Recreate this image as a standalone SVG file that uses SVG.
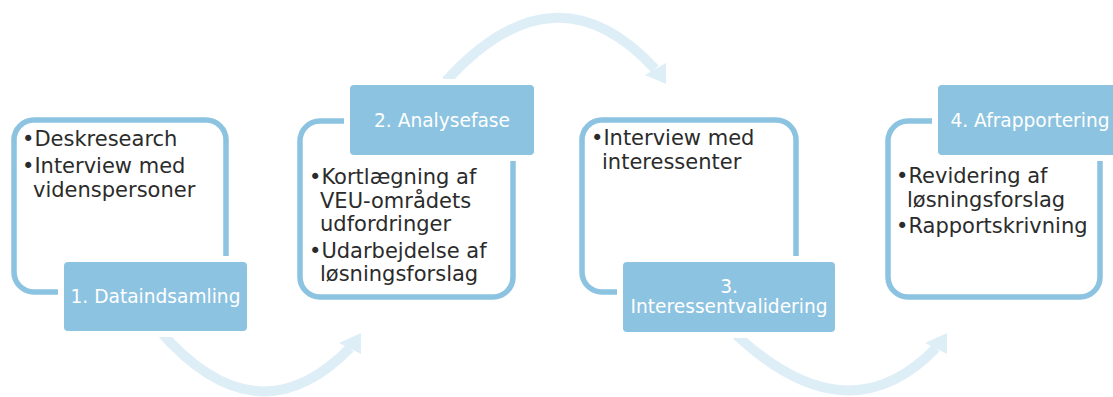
<svg xmlns="http://www.w3.org/2000/svg" width="1113" height="397" viewBox="0 0 1113 397">
<style>
.outline{fill:#ffffff;stroke:#8cc3e1;stroke-width:5.5}
.label{fill:#8cc3e1;stroke:#ffffff;stroke-width:12;paint-order:stroke}
.ltxt{font-family:"DejaVu Sans",Verdana,sans-serif;font-size:18.6px;fill:#ffffff;text-anchor:middle}
.btxt{font-family:"DejaVu Sans",Verdana,sans-serif;font-size:21px;fill:#2b2b2b}
.arc{fill:none;stroke:#deeef7;stroke-width:10}
.head{fill:#deeef7}
</style>
<rect width="1113" height="397" fill="#ffffff"/>
<g id="connectors">
<path class="arc" d="M159,330 Q257,443 350,348"/>
<polygon class="head" points="339,343 361,333 361,354"/>
<path class="arc" d="M446,81 Q555,-39 655,69"/>
<polygon class="head" points="645,75 666,63 666,84"/>
<path class="arc" d="M731,330 Q846,441 936,348"/>
<polygon class="head" points="925,343 947,333 947,354"/>
</g>
<g id="node1">
<rect class="outline" x="14" y="120" width="212" height="172" rx="20"/>
<text class="btxt"><tspan x="22" y="146">•Deskresearch</tspan><tspan x="22" y="173">•Interview med</tspan><tspan x="33" y="197">videnspersoner</tspan></text>
<rect class="label" x="64" y="262" width="183" height="69" rx="4"/>
<text class="ltxt" x="155.5" y="303">1. Dataindsamling</text>
</g>
<g id="node2">
<rect class="outline" x="300" y="121" width="213" height="176" rx="20"/>
<rect class="label" x="350" y="85" width="184" height="70" rx="4"/>
<text class="ltxt" x="442" y="127">2. Analysefase</text>
<text class="btxt"><tspan x="309" y="184">•Kortlægning af</tspan><tspan x="320" y="208">VEU-områdets</tspan><tspan x="320" y="231">udfordringer</tspan><tspan x="309" y="258">•Udarbejdelse af</tspan><tspan x="320" y="281">løsningsforslag</tspan></text>
</g>
<g id="node3">
<rect class="outline" x="582" y="120" width="214" height="172" rx="20"/>
<text class="btxt"><tspan x="591" y="145">•Interview med</tspan><tspan x="602" y="169">interessenter</tspan></text>
<rect class="label" x="623" y="262" width="212" height="70" rx="4"/>
<text class="ltxt"><tspan x="729" y="293">3.</tspan><tspan x="729" y="313">Interessentvalidering</tspan></text>
</g>
<g id="node4">
<rect class="outline" x="888" y="121" width="212" height="176" rx="20"/>
<rect class="label" x="938" y="85" width="184" height="70" rx="4"/>
<text class="ltxt" x="1030" y="127">4. Afrapportering</text>
<text class="btxt"><tspan x="896" y="183">•Revidering af</tspan><tspan x="907" y="207">løsningsforslag</tspan><tspan x="896" y="233">•Rapportskrivning</tspan></text>
</g>
</svg>
